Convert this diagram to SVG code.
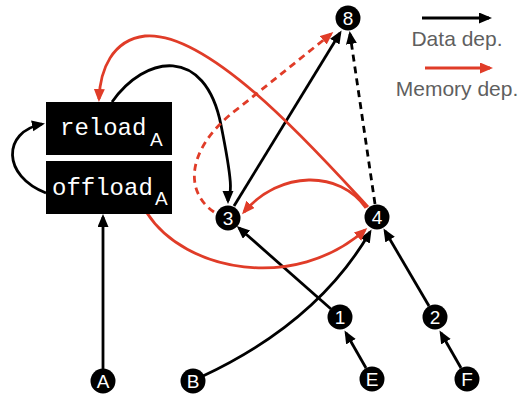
<svg xmlns="http://www.w3.org/2000/svg" width="522" height="398" viewBox="0 0 522 398">
<style>
.blk{fill:none;stroke:#000;stroke-width:2.8}
.red{fill:none;stroke:#E03C28;stroke-width:2.8}
.dash{stroke-dasharray:7 5}
.node circle{fill:#000}
.node text{fill:#fff;font-family:"Liberation Sans",Arial,sans-serif;font-size:19px;text-anchor:middle}
.box rect{fill:#000}
.mono{fill:#fff;font-family:"Liberation Mono","Courier New",monospace;font-size:24px}
.sub{fill:#fff;font-family:"Liberation Sans",Arial,sans-serif;font-size:19px}
.leg{fill:#5f5f5f;font-family:"Liberation Sans",Arial,sans-serif;font-size:21px}
</style>
<defs>
<marker id="ab" markerUnits="userSpaceOnUse" markerWidth="14" markerHeight="12" refX="10" refY="5.5" orient="auto"><path d="M0,0 L13,5.5 L0,11 z" fill="#000"/></marker>
<marker id="ar" markerUnits="userSpaceOnUse" markerWidth="14" markerHeight="12" refX="10" refY="5.5" orient="auto"><path d="M0,0 L13,5.5 L0,11 z" fill="#E03C28"/></marker>
</defs>
<g id="connectors">
<path class="blk" d="M103,369 L103,217" marker-end="url(#ab)"/>
<path class="blk" d="M46,193 C2,176 2,132 42,124" marker-end="url(#ab)"/>
<path class="blk" d="M112,102 C145,55 205,45 221,125 S228,190 228,201" marker-end="url(#ab)"/>
<path class="blk" d="M234,206 L340,33" marker-end="url(#ab)"/>
<path class="blk" d="M331,309 L239,228" marker-end="url(#ab)"/>
<path class="blk" d="M203,376 Q318,322 370,232" marker-end="url(#ab)"/>
<path class="blk" d="M429,306 L385,231" marker-end="url(#ab)"/>
<path class="blk" d="M366,368 L346,333" marker-end="url(#ab)"/>
<path class="blk" d="M461,368 L441,333" marker-end="url(#ab)"/>
<path class="blk dash" d="M375,204 L350,34" marker-end="url(#ab)"/>
<path class="red dash" d="M214,212 C182,190 188,145 240,107 L331,34" marker-end="url(#ar)"/>
<path class="red" d="M368,207 C320,155 210,30 145,36 C112,40 100,70 99,99" marker-end="url(#ar)"/>
<path class="red" d="M147,213 C185,272 295,292 365,230" marker-end="url(#ar)"/>
<path class="red" d="M366,208 C340,170 280,170 244,212" marker-end="url(#ar)"/>
<path class="blk" d="M422,18 L489,18" marker-end="url(#ab)"/>
<path class="red" d="M425,68 L490,68" marker-end="url(#ar)"/>
</g>
<g id="legend">
<text class="leg" x="457" y="46" text-anchor="middle">Data dep.</text>
<text class="leg" x="457" y="96" text-anchor="middle">Memory dep.</text>
</g>
<g id="reload" class="box"><rect x="46" y="102" width="126" height="53"/><text class="mono" x="60" y="135">reload</text><text class="sub" x="150" y="146">A</text></g>
<g id="offload" class="box"><rect x="46" y="161" width="126" height="53"/><text class="mono" x="52" y="195">offload</text><text class="sub" x="155" y="205">A</text></g>
<g id="n8" class="node"><circle cx="348" cy="18" r="12.5"/><text x="348" y="25">8</text></g>
<g id="n3" class="node"><circle cx="228" cy="218" r="12.5"/><text x="228" y="225">3</text></g>
<g id="n4" class="node"><circle cx="377" cy="217" r="12.5"/><text x="377" y="224">4</text></g>
<g id="n1" class="node"><circle cx="340" cy="317" r="12.5"/><text x="340" y="324">1</text></g>
<g id="n2" class="node"><circle cx="435" cy="317" r="12.5"/><text x="435" y="324">2</text></g>
<g id="nA" class="node"><circle cx="103" cy="381" r="12.5"/><text x="103" y="388">A</text></g>
<g id="nB" class="node"><circle cx="193" cy="381" r="12.5"/><text x="193" y="388">B</text></g>
<g id="nE" class="node"><circle cx="372" cy="379" r="12.5"/><text x="372" y="386">E</text></g>
<g id="nF" class="node"><circle cx="467" cy="379" r="12.5"/><text x="467" y="386">F</text></g>
</svg>
